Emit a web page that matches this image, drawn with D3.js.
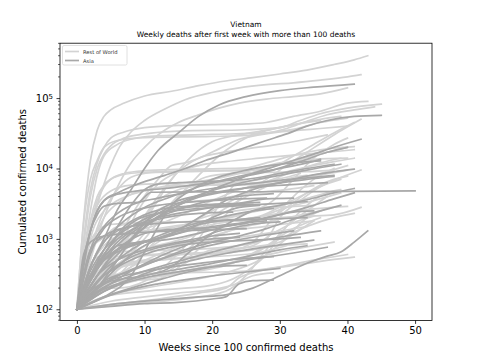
<!DOCTYPE html>
<html><head><meta charset="utf-8">
<script src="https://cdn.jsdelivr.net/npm/d3@7"></script>
<style>body{margin:0;background:#fff}svg{display:block;font-family:"DejaVu Sans",sans-serif}</style>
</head><body><svg id="c" width="480" height="360"></svg>
<script>
const titleText = "Vietnam";
const subtitleText = "Weekly deaths after first week with more than 100 deaths";
const xLabel = "Weeks since 100 confirmed deaths";
const yLabel = "Cumulated confirmed deaths";
const legendLabels = ["Rest of World", "Asia"];
const xTicks = [0, 10, 20, 30, 40, 50];
const yTicks = [100, 1000, 10000, 100000];
const yTickExp = ["2", "3", "4", "5"];

// Rest of World series: [week, cumulated deaths]
const restOfWorld = [
 [[0,100],[1,1900],[2,13000],[3,35000],[4,55000],[5,68000],[7,85000],[10,107000],[14,125000],[18,150000],[22,175000],[26,195000],[30,220000],[34,250000],[38,300000],[41,350000],[43,400000]],
 [[0,100],[1,400],[2,1200],[3,3000],[4,6000],[5,11000],[6,18000],[8,33000],[10,48000],[13,70000],[16,95000],[20,120000],[24,140000],[28,155000],[32,165000],[36,180000],[40,200000],[42,215000]],
 [[0,100],[2,500],[4,2000],[6,5500],[8,12000],[10,20000],[12,30000],[15,45000],[18,58000],[21,72000],[24,85000],[28,97000],[32,105000],[36,115000],[40,140000]],
 [[0,100],[1,1000],[2,5000],[3,12000],[4,20000],[5,27000],[7,33000],[10,38000],[15,41000],[20,42000],[25,43000],[28,45000],[32,55000],[36,65000],[40,85000],[43,90000]],
 [[0,100],[1,800],[2,4000],[3,10000],[4,16000],[5,21000],[7,27000],[10,31000],[15,34000],[25,35500],[30,38000],[33,48000],[36,60000],[40,72000],[45,82000]],
 [[0,100],[1,600],[2,2500],[3,8000],[4,15000],[6,22000],[8,26000],[12,29000],[20,30500],[28,32000],[31,37000],[34,47000],[37,58000],[41,68000],[44,75000]],
 [[0,100],[1,1700],[2,7000],[3,13000],[4,20000],[6,25000],[10,27500],[20,28500],[25,29500],[28,32000],[32,36000],[36,45000],[40,52000]],
 [[0,100],[3,300],[6,1000],[9,3000],[12,7000],[14,11000],[16,12000],[18,14000],[21,19000],[24,26000],[27,30000],[30,33000],[33,35000],[36,37000],[40,40000]],
 [[0,100],[4,250],[8,500],[12,900],[16,1500],[20,2500],[24,4000],[28,7000],[31,11000],[34,17000],[38,30000],[42,50000]],
 [[0,100],[1,400],[2,1800],[3,4000],[4,5800],[6,7800],[9,8700],[14,9100],[20,9300],[26,9500],[29,10500],[32,15000],[35,22000],[38,32000],[41,45000]],
 [[0,100],[1,500],[2,1500],[3,3500],[4,5500],[5,7000],[7,8500],[10,9300],[15,9700],[20,9900],[25,10200],[28,12000],[31,14500],[34,17000],[38,19500],[41,20500]],
 [[0,100],[2,700],[4,2500],[6,5000],[8,7500],[11,8700],[16,9000],[22,9300],[27,10000],[30,11500],[33,13500],[37,17000],[40,20000]],
 [[0,100],[1,600],[2,1800],[3,3000],[5,4800],[8,5800],[13,6100],[20,6200],[26,6700],[30,8500],[34,10500],[38,12500],[41,14000]],
 [[0,100],[2,700],[4,2000],[6,3200],[8,4300],[11,5000],[15,5700],[20,5800],[28,6000],[32,6800],[36,8500],[40,11000]],
 [[0,100],[3,250],[6,700],[9,2500],[12,6000],[15,9000],[18,11000],[22,12500],[27,14000],[32,15500],[37,17000],[41,18500]],
 [[0,100],[3,400],[6,800],[10,1200],[15,1500],[20,1800],[25,2300],[29,3500],[32,7000],[35,14000],[38,22000],[40,27000]],
 [[0,100],[3,200],[6,500],[9,1500],[12,4000],[15,9000],[18,14000],[21,16500],[25,19000],[29,21500],[33,25000],[37,30000]],
 [[0,100],[1,400],[2,900],[3,1300],[5,1600],[10,1700],[20,1750],[28,1900],[31,2800],[34,4500],[37,6500],[40,7800]],
 [[0,100],[2,400],[4,1000],[6,1500],[9,1700],[15,1750],[25,1800],[30,2000],[34,2100],[38,2200],[42,2800]],
 [[0,100],[2,400],[4,800],[6,1100],[10,1300],[16,1600],[22,1800],[27,2100],[31,3200],[35,5000],[38,6800],[42,9500]],
 [[0,100],[2,300],[4,700],[8,1200],[12,1600],[16,2300],[20,3500],[24,5000],[28,6500],[32,9000],[36,12000],[39,14000]],
 [[0,100],[1,250],[2,450],[4,600],[8,670],[16,700],[24,800],[28,1000],[30,2000],[33,3500],[36,5500],[39,7000]],
 [[0,100],[2,300],[5,500],[10,580],[16,600],[22,650],[26,900],[29,2000],[32,4000],[35,7000],[38,10000]],
 [[0,100],[2,200],[5,400],[10,500],[14,550],[18,1000],[21,3000],[24,7000],[27,9500],[30,11500],[33,14000],[35,16000]],
 [[0,100],[3,200],[6,400],[10,1000],[14,3000],[18,8000],[22,18000],[26,30000],[30,38000],[34,45000],[36,48000]],
 [[0,100],[4,300],[8,900],[11,2500],[14,7000],[17,15000],[20,24000],[24,30000],[28,35000],[32,42000],[36,50000],[39,55000]],
 [[0,100],[1,300],[2,1000],[4,2500],[6,3500],[10,4800],[15,6000],[20,7000],[25,9000],[30,12000],[35,13500],[40,14000]],
 [[0,100],[4,200],[8,700],[12,2000],[16,5000],[19,7500],[23,8500],[28,8800],[34,9000],[38,9500]],
 [[0,100],[4,250],[8,400],[12,1000],[16,1600],[20,2200],[25,2600],[30,3000],[35,4000],[37,4500]],
 [[0,100],[4,300],[8,1300],[12,2600],[16,3300],[21,3700],[26,4500],[31,5000],[35,5700]],
 [[0,100],[3,300],[6,700],[9,1500],[12,3500],[15,5000],[18,5600],[25,6200],[30,6600],[35,7800],[40,9500]],
 [[0,100],[4,300],[8,600],[12,1000],[16,1300],[20,1800],[25,2300],[30,2800],[35,3000]],
 [[0,100],[3,200],[6,200],[10,250],[14,500],[17,1000],[20,2000],[24,3500],[28,5500],[32,7500],[34,8000]],
 [[0,100],[3,200],[6,300],[10,700],[14,900],[18,1200],[22,2200],[25,4500],[28,6500],[31,7500],[33,8500]],
 [[0,100],[1,250],[3,450],[6,560],[12,610],[20,650],[26,800],[29,1200],[32,1700],[35,2100]],
 [[0,100],[2,250],[5,500],[8,800],[12,1000],[16,1300],[20,1600],[25,1900],[30,2300],[34,2600],[40,2900]],
 [[0,100],[6,120],[12,140],[18,170],[22,200],[24,280],[27,350],[32,420],[36,480],[41,550]],
 [[0,100],[3,180],[8,250],[13,300],[18,350],[22,420],[26,600],[30,1000],[34,1500],[38,2000],[41,2300]],
 [[0,100],[2,200],[5,300],[8,320],[15,330],[25,350],[30,400],[35,500],[40,600]],
 [[0,100],[4,150],[10,180],[20,220],[24,300],[28,600],[31,1500],[34,3000],[37,4500],[39,5000]],
 [[0,100],[8,120],[16,140],[22,180],[25,300],[28,700],[31,1500],[34,2500],[37,4000]],
 [[0,100],[3,200],[6,250],[12,270],[16,450],[20,700],[25,750],[30,900],[34,2000],[37,2700]],
 [[0,100],[1,400],[3,900],[6,1200],[15,1300],[25,1400],[30,1600],[35,1800]],
 [[0,100],[6,250],[12,300],[16,500],[20,1000],[24,1500],[27,2000],[31,2800],[35,3500],[39,4500]],
 [[0,100],[5,130],[10,150],[15,170],[20,190],[23,220],[26,300],[29,330]],
 [[0,100],[2,220],[5,350],[9,450],[14,520],[20,600],[26,700],[30,800],[34,850]],
 [[0,100],[4,180],[9,260],[14,330],[19,400],[25,500],[30,650],[35,800],[38,900]],
 [[0,100],[2,150],[6,220],[12,300],[18,380],[24,500],[28,800],[32,1400],[36,2000]],
 [[0,100],[3,300],[6,500],[10,700],[16,850],[22,1000],[28,1200],[34,1500]],
 [[0,100],[5,160],[10,200],[16,250],[22,330],[27,500],[31,1000],[35,1800]],
 [[0,100],[1,200],[4,350],[8,450],[14,520],[20,560],[26,620],[31,800]],
 [[0,100],[4,220],[8,400],[12,600],[16,850],[20,1100],[25,1500],[30,1900],[36,2500]]
];

// Asia series: [week, cumulated deaths]
const asia = [
 [[0,100],[2,400],[4,1000],[6,2600],[8,5000],[10,10000],[12,18000],[15,32000],[18,55000],[21,80000],[25,105000],[30,128000],[35,143000],[41,158000]],
 [[0,100],[1,400],[2,1300],[3,2500],[4,3500],[6,4500],[8,5500],[10,6500],[13,8000],[16,10000],[19,13000],[22,16000],[25,20000],[28,25000],[31,31000],[34,40000],[37,48000],[41,55000],[45,57000]],
 [[0,100],[1,500],[2,1300],[3,2200],[4,2900],[6,3200],[9,3300],[11,4600],[20,4650],[35,4700],[50,4800]],
 [[0,100],[2,300],[5,600],[8,1000],[11,1800],[14,2700],[17,3700],[20,5000],[23,6500],[26,8500],[29,10500],[32,13000],[35,16000],[38,20000],[42,26000]],
 [[0,100],[3,400],[6,900],[9,1500],[12,2300],[15,3200],[18,4200],[22,5500],[26,6800],[30,8000],[34,9500],[39,11500]],
 [[0,100],[1,500],[2,1300],[3,2500],[4,3500],[6,4300],[9,4800],[13,5200],[17,5800],[21,6500],[25,7800],[29,9500],[33,12500],[37,17000],[40,20000]],
 [[0,100],[2,300],[4,700],[6,1500],[8,3000],[10,5000],[12,6000],[15,6300],[20,6600],[25,7000],[30,8500],[34,10000],[38,11500]],
 [[0,100],[3,400],[6,700],[10,900],[14,1200],[18,2000],[22,3500],[26,5000],[30,6300],[34,7800],[38,9000],[41,9800]],
 [[0,100],[3,300],[6,600],[9,1200],[12,2000],[15,3000],[18,3900],[22,4700],[26,5500],[30,6200],[34,7000],[38,7700]],
 [[0,100],[4,150],[8,300],[11,1000],[14,3000],[17,5000],[20,7000],[24,9000],[28,10800],[32,12000],[36,12800]],
 [[0,100],[3,200],[6,500],[9,1300],[12,2500],[15,3500],[19,4300],[23,5000],[28,5600],[33,6000],[37,6300]],
 [[0,100],[5,250],[10,300],[14,400],[17,700],[20,1200],[23,1800],[26,2500],[30,3000],[34,3600],[38,4500],[41,5200]],
 [[0,100],[3,400],[6,800],[10,900],[14,1000],[18,1200],[22,1500],[26,1800],[30,2200],[34,2800],[38,3700],[41,4500]],
 [[0,100],[2,700],[4,1100],[8,1500],[14,1700],[20,1800],[28,1900],[34,2000]],
 [[0,100],[3,200],[6,400],[9,700],[12,1000],[15,1300],[18,1600],[21,1800],[24,1900],[27,2000]],
 [[0,100],[1,600],[2,900],[4,1100],[8,1200],[14,1300],[20,1350],[25,1400]],
 [[0,100],[6,120],[12,135],[18,150],[22,160],[26,200],[30,300],[34,450],[37,570],[39,650],[41,900],[43,1300]],
 [[0,100],[5,110],[10,120],[15,125],[20,140],[22,150],[24,230],[26,255],[29,260]],
 [[0,100],[4,150],[8,200],[12,260],[16,330],[20,400],[24,480],[28,550],[32,630],[37,760]],
 [[0,100],[3,160],[6,220],[10,320],[14,420],[18,520],[22,620],[26,720],[30,820],[35,960]],
 [[0,100],[4,250],[8,350],[12,500],[16,700],[20,900],[24,1100],[28,1400],[32,1900],[36,2500],[39,3000]],
 [[0,100],[3,300],[6,700],[9,1100],[12,1300],[16,1400],[20,1450],[24,1600],[28,2000],[32,2400],[35,2500]],
 [[0,100],[3,300],[6,700],[9,900],[12,1000],[16,1300],[20,2000],[24,2800],[27,3000]],
 [[0,100],[2,300],[4,600],[7,1500],[10,2200],[13,2700],[16,2900],[20,3100],[24,3200],[27,3300]],
 [[0,100],[2,400],[4,900],[6,1300],[8,1500],[12,2000],[16,2400],[20,2800],[24,3200],[28,3700],[32,3800]],
 [[0,100],[3,250],[6,400],[10,600],[15,800],[20,900],[25,950],[30,1000],[33,1050]],
 [[0,100],[2,350],[4,700],[6,1100],[9,1700],[12,2300],[15,2700],[18,2900],[22,3000],[26,3100]],
 [[0,100],[4,200],[8,350],[12,550],[16,800],[20,1200],[24,1500],[28,1700],[30,1750]],
 [[0,100],[2,600],[4,1400],[6,2000],[9,2600],[12,3000],[16,3300],[20,3500],[24,3700],[28,3800]],
 [[0,100],[3,250],[6,500],[9,800],[13,1200],[17,1600],[21,2000],[25,2400],[29,2700]],
 [[0,100],[1,300],[2,700],[4,1500],[6,2300],[8,3000],[12,3800],[16,4500],[20,5200],[25,6000],[30,6800],[35,7500],[38,8000]],
 [[0,100],[2,250],[4,500],[7,1000],[10,1600],[14,2400],[18,3200],[22,3800],[26,4200],[29,4400]],
 [[0,100],[3,400],[6,1100],[9,1900],[12,2300],[16,2600],[20,2800],[25,3000],[30,3200],[34,3400]],
 [[0,100],[2,400],[4,900],[7,1800],[10,2800],[14,4000],[18,5500],[22,7000],[26,8500],[30,10000],[34,12000],[36,13500]],
 [[0,100],[2,180],[5,260],[9,330],[14,400],[19,460],[24,520],[29,560]],
 [[0,100],[3,300],[6,500],[10,700],[15,900],[20,1100],[24,1200]],
 [[0,100],[3,200],[7,330],[12,500],[17,700],[22,900],[27,1100],[32,1300]],
 [[0,100],[2,150],[6,230],[10,300],[15,370],[20,450],[25,560],[30,700],[34,800]],
 [[0,100],[4,300],[8,550],[12,750],[16,900],[20,1000],[24,1050]],
 [[0,100],[1,200],[3,400],[6,650],[10,900],[15,1200],[20,1500],[25,1700],[28,1800]],
 [[0,100],[5,200],[10,280],[15,340],[20,400],[25,420]],
 [[0,100],[3,180],[8,300],[14,450],[20,650],[26,900],[31,1100],[36,1300]],
 [[0,100],[2,300],[5,800],[9,1500],[13,2000],[18,2300],[23,2400]],
 [[0,100],[6,170],[12,230],[18,280],[24,330],[30,380]]
];

const colors = {row: "#d3d3d3", asia: "#a8a8a8"};
const svg = d3.select("#c");
const L = 60, R = 432, T = 43.2, B = 320.4;
const x = d3.scaleLinear().domain([-2.5, 52.5]).range([L, R]);
const y = d3.scaleLog().domain([Math.pow(10,1.842), Math.pow(10,5.78)]).range([B, T]);

const line = d3.line().x(d => x(d[0])).y(d => y(d[1])).curve(d3.curveMonotoneX);
svg.append("clipPath").attr("id","clp").append("rect").attr("x",L).attr("y",T).attr("width",R-L).attr("height",B-T);
const g = svg.append("g").attr("clip-path","url(#clp)");
g.selectAll("path.row").data(restOfWorld).join("path").attr("class","row")
 .attr("d", line).attr("fill","none").attr("stroke",colors.row).attr("stroke-width",1.7).attr("stroke-linejoin","round").attr("stroke-linecap","square");
g.selectAll("path.asia").data(asia).join("path").attr("class","asia")
 .attr("d", line).attr("fill","none").attr("stroke",colors.asia).attr("stroke-width",1.7).attr("stroke-linejoin","round").attr("stroke-linecap","square");

// axes
const xa = svg.append("g").attr("transform",`translate(0,${B})`)
 .call(d3.axisBottom(x).tickValues(xTicks).tickSize(3.5).tickPadding(3.5).tickFormat(d3.format("d")));
xa.select(".domain").remove();
xa.selectAll("text").attr("font-size",10).attr("fill","#000").attr("font-family","DejaVu Sans");
xa.selectAll("line").attr("stroke","#000").attr("stroke-width",0.8);

const minor = [];
for (let e = 1; e <= 5; e++) for (let m = 2; m <= 9; m++) { const v = m*Math.pow(10,e); if (v >= y.domain()[0] && v <= y.domain()[1]) minor.push(v); }
const ya = svg.append("g").attr("transform",`translate(${L},0)`)
 .call(d3.axisLeft(y).tickValues(yTicks).tickSize(3.5).tickPadding(3.5).tickFormat(() => ""));
ya.select(".domain").remove();
ya.selectAll("line").attr("stroke","#000").attr("stroke-width",0.8);
ya.selectAll(".tick text").each(function(d,i){
  const t = d3.select(this).attr("font-size",10).attr("fill","#000").attr("font-family","DejaVu Sans");
  t.append("tspan").text("10");
  t.append("tspan").text(yTickExp[i]).attr("font-size",7).attr("dy","-0.45em");
});
svg.append("g").selectAll("line").data(minor).join("line")
 .attr("x1",L-2).attr("x2",L).attr("y1",d=>y(d)).attr("y2",d=>y(d)).attr("stroke","#000").attr("stroke-width",0.6);

svg.append("rect").attr("x",L).attr("y",T).attr("width",R-L).attr("height",B-T).attr("fill","none").attr("stroke","#000").attr("stroke-width",0.8);

// titles
svg.append("text").attr("x",(L+R)/2).attr("y",26.5).attr("text-anchor","middle").attr("font-size",7.5).text(titleText);
svg.append("text").attr("x",(L+R)/2).attr("y",36.5).attr("text-anchor","middle").attr("font-size",7.5).text(subtitleText);
svg.append("text").attr("x",(L+R)/2).attr("y",350.5).attr("text-anchor","middle").attr("font-size",10).text(xLabel);
svg.append("text").attr("transform",`translate(26,${(T+B)/2}) rotate(-90)`).attr("text-anchor","middle").attr("font-size",10).text(yLabel);

// legend
const lg = svg.append("g");
lg.append("rect").attr("x",62.5).attr("y",45.5).attr("width",64.5).attr("height",19.5).attr("rx",1.5).attr("fill","#fff").attr("fill-opacity",0.8).attr("stroke","#d8d8d8").attr("stroke-width",0.8);
const legCols = [colors.row, colors.asia];
legendLabels.forEach((lab,i)=>{
  const yy = 51.5 + i*9;
  lg.append("line").attr("x1",65).attr("x2",79).attr("y1",yy).attr("y2",yy).attr("stroke",legCols[i]).attr("stroke-width",1.7);
  lg.append("text").attr("x",83).attr("y",yy+2).attr("font-size",5.2).attr("fill","#333").text(lab);
});
</script></body></html>
